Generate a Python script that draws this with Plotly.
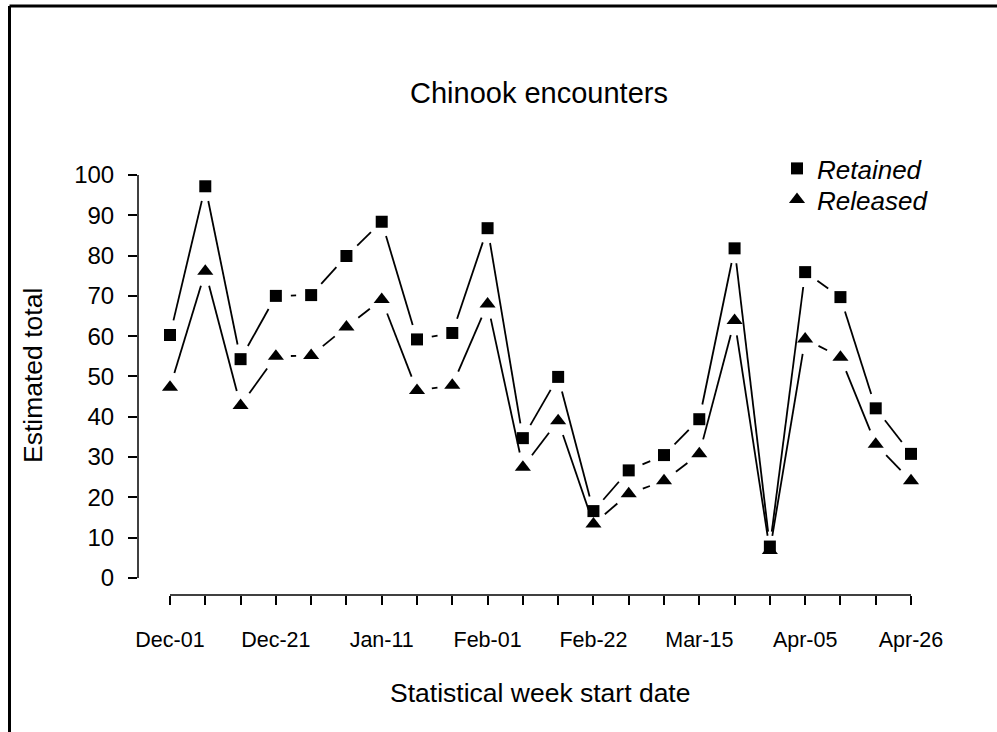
import math
import plotly.graph_objects as go

# ---------------- data ----------------
week_dates = ["Dec-01", "Dec-07", "Dec-14", "Dec-21", "Dec-28", "Jan-04", "Jan-11",
              "Jan-18", "Jan-25", "Feb-01", "Feb-08", "Feb-15", "Feb-22", "Mar-01",
              "Mar-08", "Mar-15", "Mar-22", "Mar-29", "Apr-05", "Apr-12", "Apr-19",
              "Apr-26"]
retained = [60.3, 97.2, 54.3, 70.0, 70.2, 79.9, 88.4, 59.2, 60.8, 86.8, 34.7,
            49.9, 16.6, 26.7, 30.5, 39.4, 81.8, 7.8, 75.9, 69.7, 42.1, 30.8]
released = [47.3, 76.1, 42.8, 55.0, 55.2, 62.3, 69.1, 46.5, 47.8, 68.0, 27.5,
            39.0, 13.4, 20.9, 24.1, 30.8, 63.9, 6.8, 59.3, 54.8, 33.2, 24.1]
y_ticks = [0, 10, 20, 30, 40, 50, 60, 70, 80, 90, 100]
label_every = 3

# ---------------- layout geometry ----------------
W, H = 997, 732
ML, MR, MT, MB = 138, 51, 155, 137
plot_w = W - ML - MR
plot_h = H - MT - MB
x_range = [-0.907, -0.907 + plot_w / 35.286]
y_range = [-4.22, -4.22 + plot_h / 4.03]
px_x = plot_w / (x_range[1] - x_range[0])
px_y = plot_h / (y_range[1] - y_range[0])
GAP = 15  # pixel gap around each point (like R type="b")

x_idx = list(range(len(week_dates)))
tick_text = [d if i % label_every == 0 else "" for i, d in enumerate(week_dates)]


def gapped(xs, ys, gap):
    ox, oy = [], []
    for i in range(len(xs) - 1):
        dxd = xs[i + 1] - xs[i]
        dyd = ys[i + 1] - ys[i]
        d = math.hypot(dxd * px_x, dyd * px_y)
        if d > 2 * gap:
            f = gap / d
            ox += [xs[i] + f * dxd, xs[i + 1] - f * dxd, None]
            oy += [ys[i] + f * dyd, ys[i + 1] - f * dyd, None]
    return ox, oy


def px2paper_x(px):
    return (px - ML) / plot_w


def px2paper_y(py):
    return (MT + plot_h - py) / plot_h


FONT = "Liberation Sans, Arial, sans-serif"
fig = go.Figure()

for vals in (retained, released):
    gx, gy = gapped(x_idx, vals, GAP)
    fig.add_trace(go.Scatter(x=gx, y=gy, mode="lines",
                             line=dict(color="black", width=1.8),
                             showlegend=False, hoverinfo="skip"))

fig.add_trace(go.Scatter(x=x_idx, y=released, mode="markers", name="Released",
                         marker=dict(symbol="triangle-up", size=14, color="black"),
                         showlegend=False))
fig.add_trace(go.Scatter(x=x_idx, y=retained, mode="markers", name="Retained",
                         marker=dict(symbol="square", size=12, color="black"),
                         showlegend=False))

# legend entries (one legend box per entry for exact placement)
fig.add_trace(go.Scatter(x=[None], y=[None], mode="markers", name="Retained",
                         marker=dict(symbol="square", size=12, color="black"),
                         legend="legend"))
fig.add_trace(go.Scatter(x=[None], y=[None], mode="markers", name="Released",
                         marker=dict(symbol="triangle-up", size=14, color="black"),
                         legend="legend2"))

# detached R-style axis lines
fig.add_shape(type="line", xref="x", yref="paper", x0=0, x1=len(week_dates) - 1,
              y0=0, y1=0, line=dict(color="black", width=1.5))
fig.add_shape(type="line", xref="paper", yref="y", x0=0, x1=0,
              y0=y_ticks[0], y1=y_ticks[-1], line=dict(color="black", width=1.5))

# outer frame (left and top edges visible)
fx = px2paper_x(9.5)
fy = px2paper_y(6)
fig.add_shape(type="line", xref="paper", yref="paper", x0=fx, x1=fx,
              y0=fy, y1=-0.5, line=dict(color="black", width=3))
fig.add_shape(type="line", xref="paper", yref="paper", x0=fx, x1=1.2,
              y0=fy, y1=fy, line=dict(color="black", width=3))

fig.add_annotation(text="Chinook encounters", xref="paper", yref="paper",
                   x=px2paper_x(538.5), y=px2paper_y(93),
                   showarrow=False, font=dict(family=FONT, size=29, color="black"),
                   xanchor="center", yanchor="middle")
fig.add_annotation(text="Statistical week start date", xref="paper", yref="paper",
                   x=px2paper_x(540), y=px2paper_y(693),
                   showarrow=False, font=dict(family=FONT, size=26.5, color="black"),
                   xanchor="center", yanchor="middle")
fig.add_annotation(text="Estimated total", xref="paper", yref="paper",
                   x=px2paper_x(33), y=px2paper_y(376),
                   showarrow=False, textangle=-90,
                   font=dict(family=FONT, size=26.5, color="black"),
                   xanchor="center", yanchor="middle")

legend_common = dict(xanchor="left", yanchor="top", bgcolor="rgba(0,0,0,0)",
                     font=dict(family=FONT, size=26, color="black", style="italic"),
                     itemwidth=30, borderwidth=0)

fig.update_layout(
    width=W, height=H,
    margin=dict(l=ML, r=MR, t=MT, b=MB, pad=0),
    paper_bgcolor="white", plot_bgcolor="white",
    font=dict(family=FONT, color="black"),
    xaxis=dict(range=x_range, tickmode="array", tickvals=x_idx, ticktext=tick_text,
               ticks="outside", ticklen=9, tickwidth=1.5, tickcolor="black",
               showgrid=False, zeroline=False, showline=False,
               tickfont=dict(family=FONT, size=21.5, color="black"),
               ticklabelstandoff=16),
    yaxis=dict(range=y_range, tickmode="array", tickvals=y_ticks,
               ticks="outside", ticklen=9, tickwidth=1.5, tickcolor="black",
               showgrid=False, zeroline=False, showline=False,
               tickfont=dict(family=FONT, size=24, color="black"),
               ticklabelstandoff=9),
    legend=dict(x=px2paper_x(777), y=px2paper_y(145), **legend_common),
    legend2=dict(x=px2paper_x(777), y=px2paper_y(176), **legend_common),
    showlegend=True,
)

fig.write_html("out.html",
               config={"displayModeBar": False},
               post_script="document.body.style.margin='0px';"
                           "document.body.style.overflow='hidden';")
